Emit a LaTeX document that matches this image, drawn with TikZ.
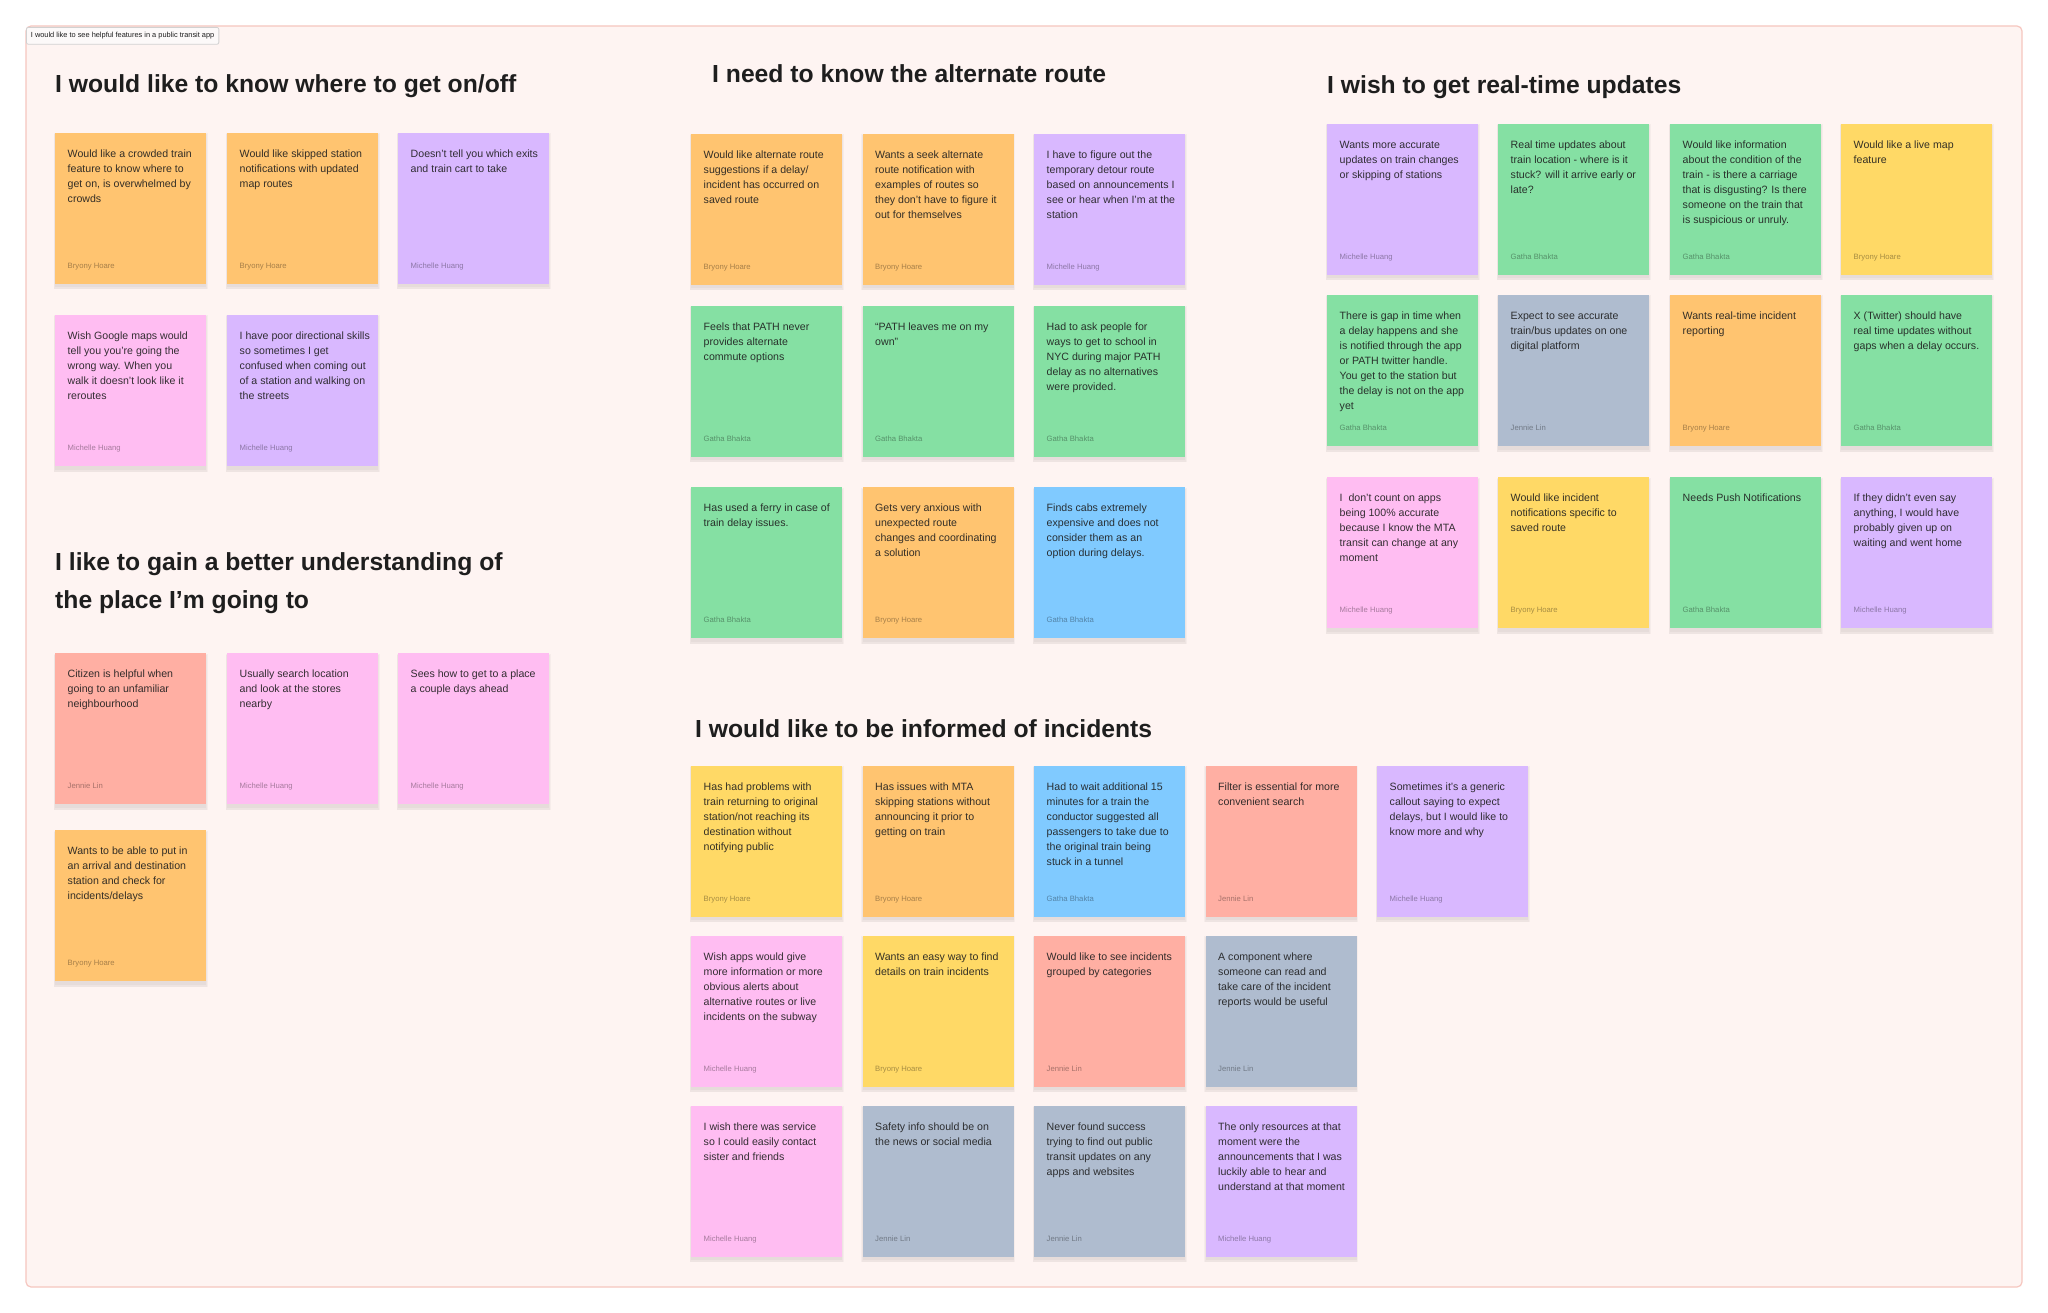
\documentclass[tikz,border=0pt]{standalone}
\usepackage{fontspec}
\setmainfont{Liberation Sans}
\definecolor{cOrange}{HTML}{FFC470}
\definecolor{cPurple}{HTML}{D9B8FF}
\definecolor{cPink}{HTML}{FFBDF2}
\definecolor{cSalmon}{HTML}{FFAFA3}
\definecolor{cGreen}{HTML}{85E0A3}
\definecolor{cYellow}{HTML}{FFD966}
\definecolor{cBlue}{HTML}{80CAFF}
\definecolor{cGray}{HTML}{AFBCCF}
\definecolor{cBg}{HTML}{FEF4F2}
\definecolor{cBorder}{HTML}{F6C6BF}
\definecolor{cInk}{HTML}{1E1E1E}
\definecolor{cTag}{HTML}{FCF9F9}
\tikzset{
  notebox/.style={rectangle, inner sep=0, minimum width=151pt, minimum height=151pt, draw=none},
  noteshadow/.style={fill=black, opacity=0.03},
  notetext/.style={inner sep=0, align=left, text=cInk, text opacity=0.9,
    font=\fontsize{10.6}{15}\selectfont},
  noteauthor/.style={inner sep=0, text=black, text opacity=0.35,
    font=\fontsize{7.7}{9}\selectfont},
  grouptitle/.style={inner sep=0, anchor=base west, text=cInk,
    font=\fontsize{24.7}{30}\selectfont\bfseries},
  frame/.style={draw=cBorder, line width=1.2pt, fill=cBg, rounded corners=5pt},
  tagbox/.style={draw=black!18, line width=0.8pt, fill=cTag, rounded corners=2pt, anchor=north west,
    inner xsep=4.5pt, inner ysep=5pt, text=cInk, font=\fontsize{7.4}{8.5}\selectfont}
}
\newcommand\sticky[6]{%
  \fill[noteshadow] (#2-1.5,#3+0.5) rectangle ++(154,156);
  \fill[noteshadow] (#2-0.75,#3+1.5) rectangle ++(152.5,155);
  \fill[noteshadow] (#2,#3+2.5) rectangle ++(151,152);
  \node[notebox, fill=#4, anchor=north west] (#1) at (#2,#3) {};
  \node[notetext, anchor=north west] (#1t) at ([shift={(12.5,14)}]#1.north west) {\strut #5};
  \node[noteauthor, anchor=base west] (#1a) at ([shift={(12.5,135.5)}]#1.north west) {#6};
}
\begin{document}
\begin{tikzpicture}[x=1pt,y=-1pt]
\useasboundingbox (0,0) rectangle (2048,1313);
\fill[white] (0,0) rectangle (2048,1313);
\draw[frame] (26,26) rectangle (2022,1287);
\node[tagbox] (tag) at (26,27) {I would like to see helpful features in a public transit app};

% ---------- Group 1 ----------
\node[grouptitle] (t1) at (55,93) {I would like to know where to get on/off};
\sticky{ga}{55}{133}{cOrange}{Would like a crowded train\\feature to know where to\\get on, is overwhelmed by\\crowds}{Bryony Hoare}
\sticky{gb}{227}{133}{cOrange}{Would like skipped station\\notifications with updated\\map routes}{Bryony Hoare}
\sticky{gc}{398}{133}{cPurple}{Doesn’t tell you which exits\\and train cart to take}{Michelle Huang}
\sticky{gd}{55}{315}{cPink}{Wish Google maps would\\tell you you’re going the\\wrong way. When you\\walk it doesn’t look like it\\reroutes}{Michelle Huang}
\sticky{ge}{227}{315}{cPurple}{I have poor directional skills\\so sometimes I get\\confused when coming out\\of a station and walking on\\the streets}{Michelle Huang}

% ---------- Group 4 ----------
\node[grouptitle] (t4a) at (55,570) {I like to gain a better understanding of};
\node[grouptitle] (t4b) at (55,608) {the place I’m going to};
\sticky{pa}{55}{653}{cSalmon}{Citizen is helpful when\\going to an unfamiliar\\neighbourhood}{Jennie Lin}
\sticky{pb}{227}{653}{cPink}{Usually search location\\and look at the stores\\nearby}{Michelle Huang}
\sticky{pc}{398}{653}{cPink}{Sees how to get to a place\\a couple days ahead}{Michelle Huang}
\sticky{pd}{55}{830}{cOrange}{Wants to be able to put in\\an arrival and destination\\station and check for\\incidents/delays}{Bryony Hoare}

% ---------- Group 2 ----------
\node[grouptitle] (t2) at (712,83) {I need to know the alternate route};
\sticky{aa}{691}{134}{cOrange}{Would like alternate route\\suggestions if a delay/\\incident has occurred on\\saved route}{Bryony Hoare}
\sticky{ab}{862.5}{134}{cOrange}{Wants a seek alternate\\route notification with\\examples of routes so\\they don’t have to figure it\\out for themselves}{Bryony Hoare}
\sticky{ac}{1034}{134}{cPurple}{I have to figure out the\\temporary detour route\\based on announcements I\\see or hear when I’m at the\\station}{Michelle Huang}
\sticky{ad}{691}{305.5}{cGreen}{Feels that PATH never\\provides alternate\\commute options}{Gatha Bhakta}
\sticky{ae}{862.5}{305.5}{cGreen}{“PATH leaves me on my\\own”}{Gatha Bhakta}
\sticky{af}{1034}{305.5}{cGreen}{Had to ask people for\\ways to get to school in\\NYC during major PATH\\delay as no alternatives\\were provided.}{Gatha Bhakta}
\sticky{ag}{691}{487}{cGreen}{Has used a ferry in case of\\train delay issues.}{Gatha Bhakta}
\sticky{ah}{862.5}{487}{cOrange}{Gets very anxious with\\unexpected route\\changes and coordinating\\a solution}{Bryony Hoare}
\sticky{ai}{1034}{487}{cBlue}{Finds cabs extremely\\expensive and does not\\consider them as an\\option during delays.}{Gatha Bhakta}

% ---------- Group 3 ----------
\node[grouptitle] (t3) at (1327,94) {I wish to get real-time updates};
\sticky{ra}{1327}{124}{cPurple}{Wants more accurate\\updates on train changes\\or skipping of stations}{Michelle Huang}
\sticky{rb}{1498}{124}{cGreen}{Real time updates about\\train location - where is it\\stuck? will it arrive early or\\late?}{Gatha Bhakta}
\sticky{rc}{1670}{124}{cGreen}{Would like information\\about the condition of the\\train - is there a carriage\\that is disgusting? Is there\\someone on the train that\\is suspicious or unruly.}{Gatha Bhakta}
\sticky{rd}{1841}{124}{cYellow}{Would like a live map\\feature}{Bryony Hoare}
\sticky{re}{1327}{295}{cGreen}{There is gap in time when\\a delay happens and she\\is notified through the app\\or PATH twitter handle.\\You get to the station but\\the delay is not on the app\\yet}{Gatha Bhakta}
\sticky{rf}{1498}{295}{cGray}{Expect to see accurate\\train/bus updates on one\\digital platform}{Jennie Lin}
\sticky{rg}{1670}{295}{cOrange}{Wants real-time incident\\reporting}{Bryony Hoare}
\sticky{rh}{1841}{295}{cGreen}{X (Twitter) should have\\real time updates without\\gaps when a delay occurs.}{Gatha Bhakta}
\sticky{ri}{1327}{477}{cPink}{I\ \ don’t count on apps\\being 100\% accurate\\because I know the MTA\\transit can change at any\\moment}{Michelle Huang}
\sticky{rj}{1498}{477}{cYellow}{Would like incident\\notifications specific to\\saved route}{Bryony Hoare}
\sticky{rk}{1670}{477}{cGreen}{Needs Push Notifications}{Gatha Bhakta}
\sticky{rl}{1841}{477}{cPurple}{If they didn’t even say\\anything, I would have\\probably given up on\\waiting and went home}{Michelle Huang}

% ---------- Group 5 ----------
\node[grouptitle] (t5) at (695,737) {I would like to be informed of incidents};
\sticky{ia}{691}{765.5}{cYellow}{Has had problems with\\train returning to original\\station/not reaching its\\destination without\\notifying public}{Bryony Hoare}
\sticky{ib}{862.5}{765.5}{cOrange}{Has issues with MTA\\skipping stations without\\announcing it prior to\\getting on train}{Bryony Hoare}
\sticky{ic}{1034}{765.5}{cBlue}{Had to wait additional 15\\minutes for a train the\\conductor suggested all\\passengers to take due to\\the original train being\\stuck in a tunnel}{Gatha Bhakta}
\sticky{id}{1205.5}{765.5}{cSalmon}{Filter is essential for more\\convenient search}{Jennie Lin}
\sticky{ie}{1377}{765.5}{cPurple}{Sometimes it’s a generic\\callout saying to expect\\delays, but I would like to\\know more and why}{Michelle Huang}
\sticky{if}{691}{935.5}{cPink}{Wish apps would give\\more information or more\\obvious alerts about\\alternative routes or live\\incidents on the subway}{Michelle Huang}
\sticky{ig}{862.5}{935.5}{cYellow}{Wants an easy way to find\\details on train incidents}{Bryony Hoare}
\sticky{ih}{1034}{935.5}{cSalmon}{Would like to see incidents\\grouped by categories}{Jennie Lin}
\sticky{ii}{1205.5}{935.5}{cGray}{A component where\\someone can read and\\take care of the incident\\reports would be useful}{Jennie Lin}
\sticky{ij}{691}{1105.5}{cPink}{I wish there was service\\so I could easily contact\\sister and friends}{Michelle Huang}
\sticky{ik}{862.5}{1105.5}{cGray}{Safety info should be on\\the news or social media}{Jennie Lin}
\sticky{il}{1034}{1105.5}{cGray}{Never found success\\trying to find out public\\transit updates on any\\apps and websites}{Jennie Lin}
\sticky{im}{1205.5}{1105.5}{cPurple}{The only resources at that\\moment were the\\announcements that I was\\luckily able to hear and\\understand at that moment}{Michelle Huang}
\end{tikzpicture}
\end{document}
